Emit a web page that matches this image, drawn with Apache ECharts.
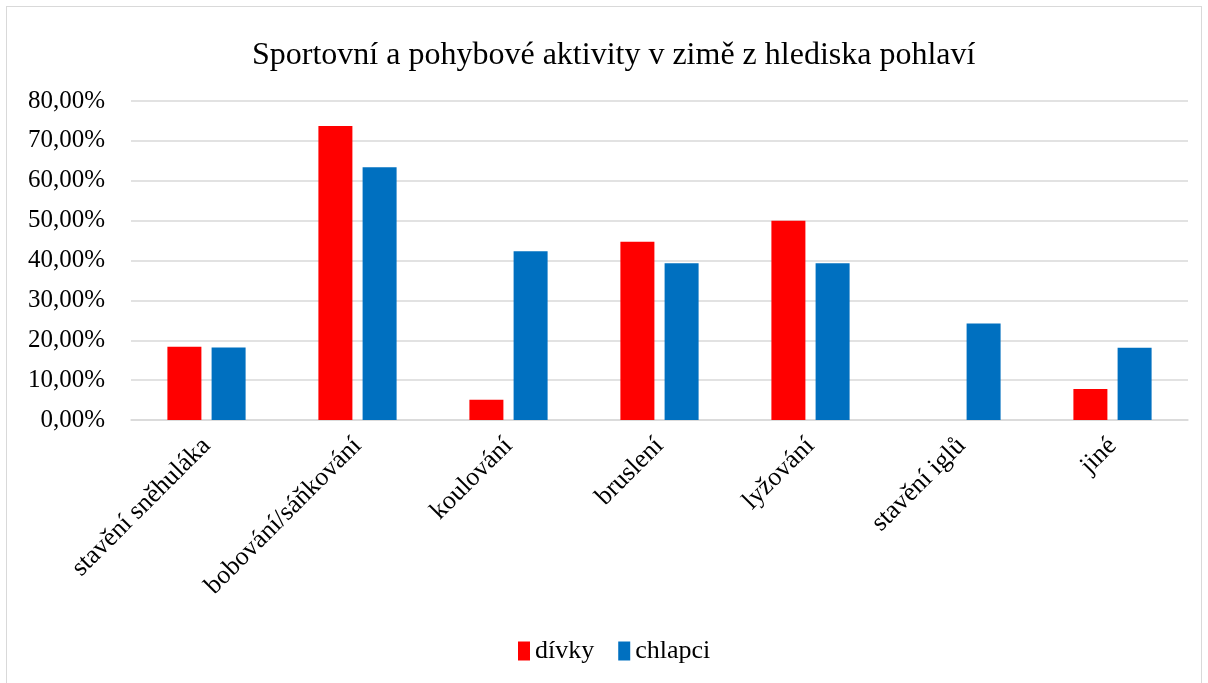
<!DOCTYPE html>
<html>
<head>
<meta charset="utf-8">
<script src="https://cdn.jsdelivr.net/npm/echarts@6/dist/echarts.min.js"></script>
<style>
  html, body { margin: 0; padding: 0; background: #fff; }
  #chart { position: absolute; left: 6px; top: 6px; width: 1196px; height: 690px; border: 1px solid #d9d9d9; box-sizing: border-box; }
</style>
</head>
<body>
<div id="chart"></div>
<script>
// kategorie aktivit
const categories = ["stavění sněhuláka", "bobování/sáňkování", "koulování", "bruslení", "lyžování", "stavění iglů", "jiné"];
// procenta
const divky = [18.4, 73.7, 5.1, 44.7, 50.0, 0, 7.8];
const chlapci = [18.2, 63.4, 42.3, 39.3, 39.3, 24.2, 18.1];
const seriesNames = ["dívky", "chlapci"];

const font = "'Liberation Serif', 'Times New Roman', serif";
const chart = echarts.init(document.getElementById("chart"));
const option = {
  animation: false,
  textStyle: { fontFamily: font },
  title: {
    text: "Sportovní a pohybové aktivity v zimě z hlediska pohlaví",
    left: 240,
    top: 28,
    textStyle: { fontFamily: font, fontSize: 32, fontWeight: "normal", color: "#000" },
  },
  legend: {
    data: seriesNames,
    bottom: 26,
    left: 506,
    icon: "rect",
    itemWidth: 12,
    itemHeight: 19,
    itemGap: 24,
    textStyle: { fontFamily: font, fontSize: 26, color: "#000" },
  },
  grid: { left: 124, right: 13, top: 94, bottom: 275, containLabel: false },
  xAxis: {
    type: "category",
    data: categories,
    axisTick: { show: false },
    axisLine: { lineStyle: { color: "#d9d9d9", width: 1.5 } },
    axisLabel: { rotate: 45, margin: 22, interval: 0, fontFamily: font, fontSize: 26, color: "#000" },
  },
  yAxis: {
    type: "value",
    min: 0,
    max: 80,
    interval: 10,
    axisLabel: {
      fontFamily: font,
      fontSize: 25,
      color: "#000",
      margin: 26,
      formatter: (v) => v.toFixed(2).replace(".", ",") + "%",
    },
    splitLine: { lineStyle: { color: "#d9d9d9", width: 1.5 } },
  },
  series: [
    {
      name: seriesNames[0],
      type: "bar",
      data: divky,
      barWidth: 34,
      barGap: "30%",
      itemStyle: { color: "#ff0000" },
    },
    {
      name: seriesNames[1],
      type: "bar",
      data: chlapci,
      barWidth: 34,
      itemStyle: { color: "#0070c0" },
    },
  ],
};
chart.setOption(option);
</script>
</body>
</html>
